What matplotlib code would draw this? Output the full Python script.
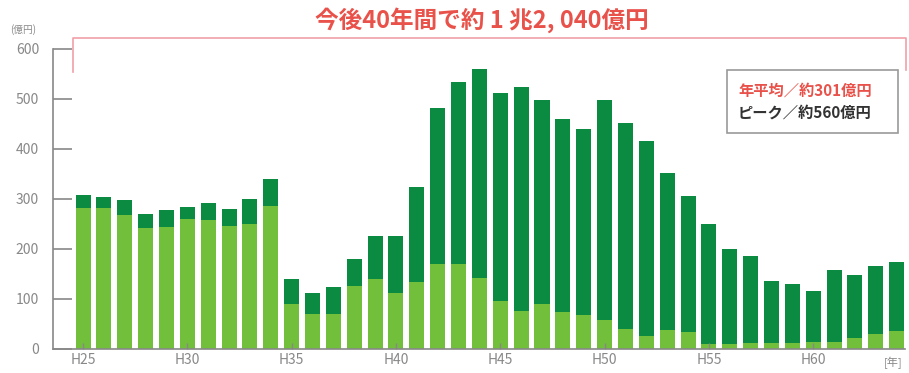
import numpy as np
import matplotlib.pyplot as plt
from matplotlib.patches import Rectangle

plt.rcParams['font.family'] = ['Noto Sans CJK JP', 'DejaVu Sans']

# 年度（H25〜H64）
years = list(range(25, 65))
# 下段（淡緑）
lower = [283, 283, 269, 243, 245, 261, 259, 247, 251, 286,
         90, 70, 70, 126, 141, 113, 135, 171, 171, 143,
         97, 77, 90, 75, 68, 58, 41, 27, 38, 35,
         10, 10, 12, 12, 13, 14, 14, 22, 30, 36]
# 合計（棒の高さ）
total = [309, 305, 298, 270, 278, 285, 293, 280, 301, 340,
         140, 113, 125, 181, 226, 226, 325, 483, 535, 560,
         513, 525, 498, 461, 441, 498, 453, 417, 353, 307,
         250, 201, 187, 136, 131, 116, 159, 148, 166, 175]
upper = [t - l for t, l in zip(total, lower)]
tick_years = [25, 30, 35, 40, 45, 50, 55, 60]

light = '#72bf3c'
dark = '#0b8b42'
grey = '#888888'
red = '#e8524a'

fig = plt.figure(figsize=(9.09, 3.73), dpi=100)
ax = fig.add_axes([53 / 909, 24 / 373, 852 / 909, 300 / 373])

x = np.arange(len(years))
ax.bar(x, lower, width=0.72, color=light, edgecolor='none')
ax.bar(x, upper, bottom=lower, width=0.72, color=dark, edgecolor='none')

ax.set_xlim(-1.44, 39.4)
ax.set_ylim(0, 600)
ax.set_yticks(range(0, 601, 100))
ax.set_xticks([years.index(y) for y in tick_years])
ax.set_xticklabels(['H%d' % y for y in tick_years])
ax.tick_params(axis='y', direction='in', length=14, width=1.2, color=grey,
               labelcolor=grey, labelsize=10, pad=10)
ax.tick_params(axis='x', direction='in', length=4, width=1, color=grey,
               labelcolor=grey, labelsize=10, pad=3)
for s in ['top', 'right']:
    ax.spines[s].set_visible(False)
for s in ['left', 'bottom']:
    ax.spines[s].set_color(grey)
    ax.spines[s].set_linewidth(1.2)

fig.text(10 / 909, 1 - 30 / 373, '(億円)', fontsize=7, color=grey,
         va='center', ha='left')
fig.text(893 / 909, 1 - 363 / 373, '[年]', fontsize=8, color=grey,
         va='center', ha='center')

# 40年間の括り線
bx0, bx1 = 73 / 909, 906 / 909
by = 1 - 38 / 373
fig.add_artist(plt.Line2D([bx0, bx0, bx1, bx1],
                          [1 - 72 / 373, by, by, 1 - 70 / 373],
                          color='#f0a0a8', lw=1.2))
fig.text(482 / 909, 1 - 20 / 373, '今後40年間で約 1 兆2, 040億円',
         fontsize=17, fontweight='bold', color=red, ha='center', va='center')

# 平均・ピークの囲み
fig.add_artist(Rectangle((727 / 909, 1 - 133 / 373), 171 / 909, 63 / 373,
                         transform=fig.transFigure, fill=True,
                         facecolor='white', edgecolor='#999999', lw=1.2))
fig.text(738 / 909, 1 - 91 / 373, '年平均／約301億円', fontsize=11,
         fontweight='bold', color=red, va='center', ha='left')
fig.text(738 / 909, 1 - 113 / 373, 'ピーク／約560億円', fontsize=11,
         fontweight='bold', color='#333333', va='center', ha='left')

fig.savefig('out.png', dpi=100)
